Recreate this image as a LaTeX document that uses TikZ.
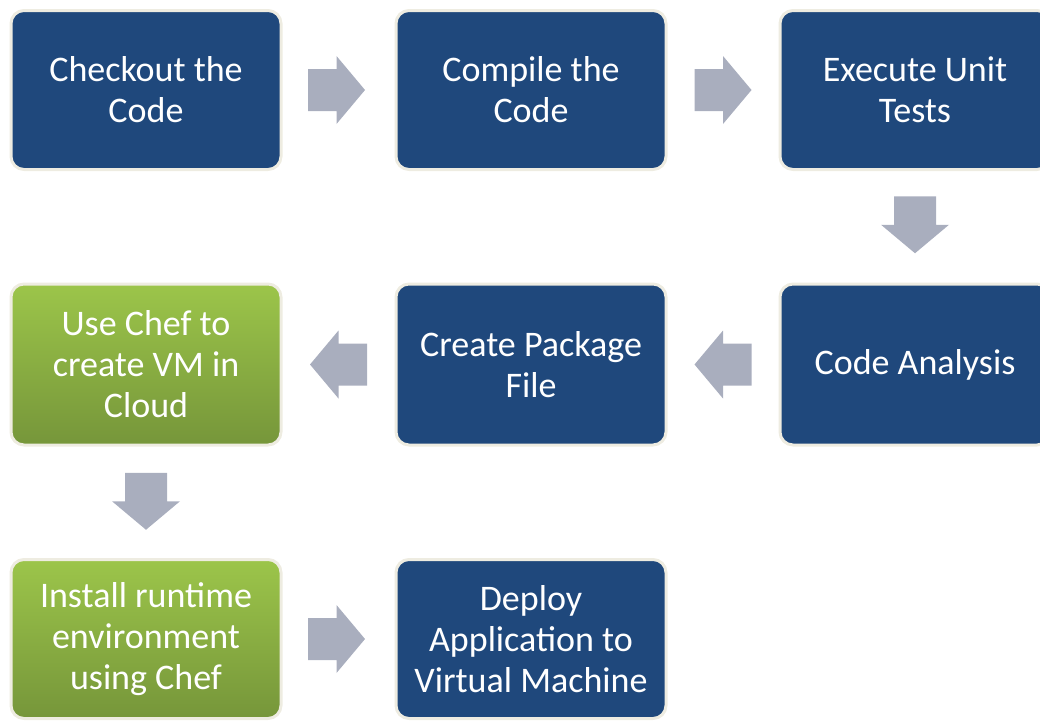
\documentclass[tikz,border=0pt]{standalone}
\usepackage{fontspec}
\setmainfont{Carlito}
\usetikzlibrary{calc}
\definecolor{boxblue}{HTML}{1F487C}
\definecolor{boxedge}{HTML}{EEECE1}
\definecolor{greentop}{HTML}{9CC54A}
\definecolor{greenbot}{HTML}{76963A}
\definecolor{arrowgrey}{HTML}{A9AEBE}
\tikzset{
  stepbox/.style={rounded corners=13pt, draw=boxedge, line width=3pt,
    minimum width=270pt, minimum height=159pt, inner sep=0pt,
    align=center, text=white, font=\fontsize{36}{41}\selectfont},
  bluebox/.style={stepbox, fill=boxblue},
  greenbox/.style={stepbox, top color=greentop, bottom color=greenbot},
  blockarrow/.style={fill=arrowgrey, draw=none}
}
\newcommand{\blockarr}[2]{%
  \begin{scope}[shift={#1}, rotate=#2]
    \fill[blockarrow] (-28.5,-21) -- (0,-21) -- (0,-34) -- (28.5,0) -- (0,34) -- (0,21) -- (-28.5,21) -- cycle;
  \end{scope}}
\begin{document}
\begin{tikzpicture}[x=1pt,y=1pt]
\useasboundingbox (0,0) rectangle (1040,-723);
\clip (0,0) rectangle (1040,-723);
\node[bluebox] (checkout) at (146,-90) {Checkout the\\Code};
\node[bluebox] (compile) at (531,-90) {Compile the\\Code};
\node[bluebox] (unit) at (915,-90) {Execute Unit\\Tests};
\node[greenbox, minimum height=161pt] (chef) at (146,-364.5) {Use Chef to\\create VM in\\Cloud};
\node[bluebox, minimum height=161pt] (package) at (531,-364.5) {Create Package\\File};
\node[bluebox, minimum height=161pt] (analysis) at (915,-364.5) {Code Analysis};
\node[greenbox] (install) at (146,-639) {Install runtime\\environment\\using Chef};
\node[bluebox] (deploy) at (531,-639) {Deploy\\Application to\\Virtual Machine};
\blockarr{($(checkout.east)!0.5!(compile.west)+(-2,0)$)}{0}
\blockarr{($(compile.east)!0.5!(unit.west)$)}{0}
\blockarr{($(unit.south)!0.5!(analysis.north)+(0,2)$)}{-90}
\blockarr{($(analysis.west)!0.5!(package.east)$)}{180}
\blockarr{($(package.west)!0.5!(chef.east)$)}{180}
\blockarr{($(chef.south)!0.5!(install.north)+(0,1)$)}{-90}
\blockarr{($(install.east)!0.5!(deploy.west)+(-2,0)$)}{0}
\end{tikzpicture}
\end{document}
